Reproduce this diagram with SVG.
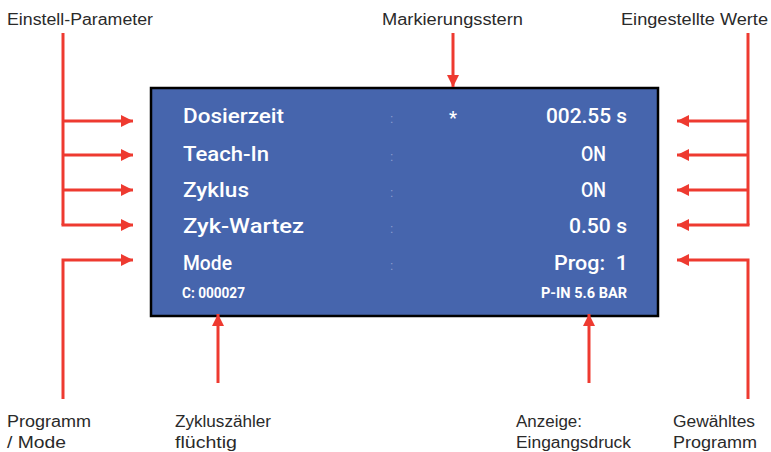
<svg xmlns="http://www.w3.org/2000/svg" width="771" height="452" viewBox="0 0 771 452">
<style>
.lbl{font-family:"Liberation Sans","Open Sans",sans-serif;font-size:16px;fill:#2a2a2a}
.lcd{font-family:Roboto,"Liberation Sans",sans-serif;font-size:21px;font-weight:500;fill:#fff}
.lcds{font-family:Roboto,"Liberation Sans",sans-serif;font-size:14px;font-weight:bold;fill:#fff}
.col{font-family:"Liberation Sans",sans-serif;font-size:12px;fill:#8b9fd0}
.con{stroke:#ee3a30;stroke-width:3;fill:none;marker-end:url(#ah)}
.ln{stroke:#ee3a30;stroke-width:3;fill:none}
</style>
<defs>
<marker id="ah" markerUnits="userSpaceOnUse" markerWidth="14" markerHeight="12" refX="12" refY="6" orient="auto">
<path d="M0,0 L12,6 L0,12 Z" fill="#ee3a30"/>
</marker>
</defs>
<rect width="771" height="452" fill="#fff"/>
<g id="display">
<rect x="151" y="88" width="507" height="228" fill="#4665ad" stroke="#000" stroke-width="2.5"/>
<text class="lcd" x="183" y="123" textLength="101" lengthAdjust="spacingAndGlyphs">Dosierzeit</text>
<text class="lcd" x="183" y="161" textLength="86" lengthAdjust="spacingAndGlyphs">Teach-In</text>
<text class="lcd" x="183" y="197" textLength="66" lengthAdjust="spacingAndGlyphs">Zyklus</text>
<text class="lcd" x="183" y="233" textLength="121" lengthAdjust="spacingAndGlyphs">Zyk-Wartez</text>
<text class="lcd" x="183" y="270" textLength="49" lengthAdjust="spacingAndGlyphs">Mode</text>
<text class="lcds" x="182" y="298" textLength="63" lengthAdjust="spacingAndGlyphs">C: 000027</text>
<text class="col" x="390" y="123">:</text>
<text class="col" x="390" y="161">:</text>
<text class="col" x="390" y="197">:</text>
<text class="col" x="390" y="233">:</text>
<text class="col" x="390" y="270">:</text>
<text class="lcd" x="453" y="124" text-anchor="middle" style="font-size:18px">*</text>
<text class="lcd" x="627" y="123" text-anchor="end" textLength="81" lengthAdjust="spacingAndGlyphs">002.55 s</text>
<text class="lcd" x="606" y="161" text-anchor="end" textLength="25" lengthAdjust="spacingAndGlyphs">ON</text>
<text class="lcd" x="606" y="197" text-anchor="end" textLength="25" lengthAdjust="spacingAndGlyphs">ON</text>
<text class="lcd" x="627" y="233" text-anchor="end" textLength="58" lengthAdjust="spacingAndGlyphs">0.50 s</text>
<text class="lcd" x="628" y="270" text-anchor="end" textLength="74" lengthAdjust="spacingAndGlyphs" xml:space="preserve">Prog:  1</text>
<text class="lcds" x="627" y="298" text-anchor="end" textLength="86" lengthAdjust="spacingAndGlyphs">P-IN 5.6 BAR</text>
</g>
<g id="labels">
<text id="einstell" class="lbl" x="7" y="25" textLength="146" lengthAdjust="spacingAndGlyphs">Einstell-Parameter</text>
<text id="markierung" class="lbl" x="382" y="25" textLength="141" lengthAdjust="spacingAndGlyphs">Markierungsstern</text>
<text id="eingestellt" class="lbl" x="621" y="25" textLength="147" lengthAdjust="spacingAndGlyphs">Eingestellte Werte</text>
<g id="programm-mode">
<text class="lbl" x="7" y="427" textLength="84" lengthAdjust="spacingAndGlyphs">Programm</text>
<text class="lbl" x="7" y="448" textLength="59" lengthAdjust="spacingAndGlyphs">/ Mode</text>
</g>
<g id="zykluszaehler">
<text class="lbl" x="175" y="427" textLength="96" lengthAdjust="spacingAndGlyphs">Zykluszähler</text>
<text class="lbl" x="175" y="448" textLength="62" lengthAdjust="spacingAndGlyphs">flüchtig</text>
</g>
<g id="anzeige">
<text class="lbl" x="516" y="427" textLength="66" lengthAdjust="spacingAndGlyphs">Anzeige:</text>
<text class="lbl" x="516" y="448" textLength="115" lengthAdjust="spacingAndGlyphs">Eingangsdruck</text>
</g>
<g id="gewaehltes">
<text class="lbl" x="673" y="427" textLength="82" lengthAdjust="spacingAndGlyphs">Gewähltes</text>
<text class="lbl" x="673" y="448" textLength="84" lengthAdjust="spacingAndGlyphs">Programm</text>
</g>
</g>
<g id="connectors">
<path class="ln" d="M63,33 V225"/>
<path class="con" d="M63,121 H133"/>
<path class="con" d="M63,155 H133"/>
<path class="con" d="M63,190 H133"/>
<path class="con" d="M61.5,225 H133"/>
<path class="con" d="M63,399 V260 H133"/>
<path class="ln" d="M748,33 V225"/>
<path class="con" d="M748,121 H677"/>
<path class="con" d="M748,155 H677"/>
<path class="con" d="M748,190 H677"/>
<path class="con" d="M749.5,225 H677"/>
<path class="con" d="M748,399 V260 H677"/>
<path class="con" d="M453,33 V87"/>
<path class="con" d="M218,383 V314"/>
<path class="con" d="M589,383 V314"/>
</g>
</svg>
